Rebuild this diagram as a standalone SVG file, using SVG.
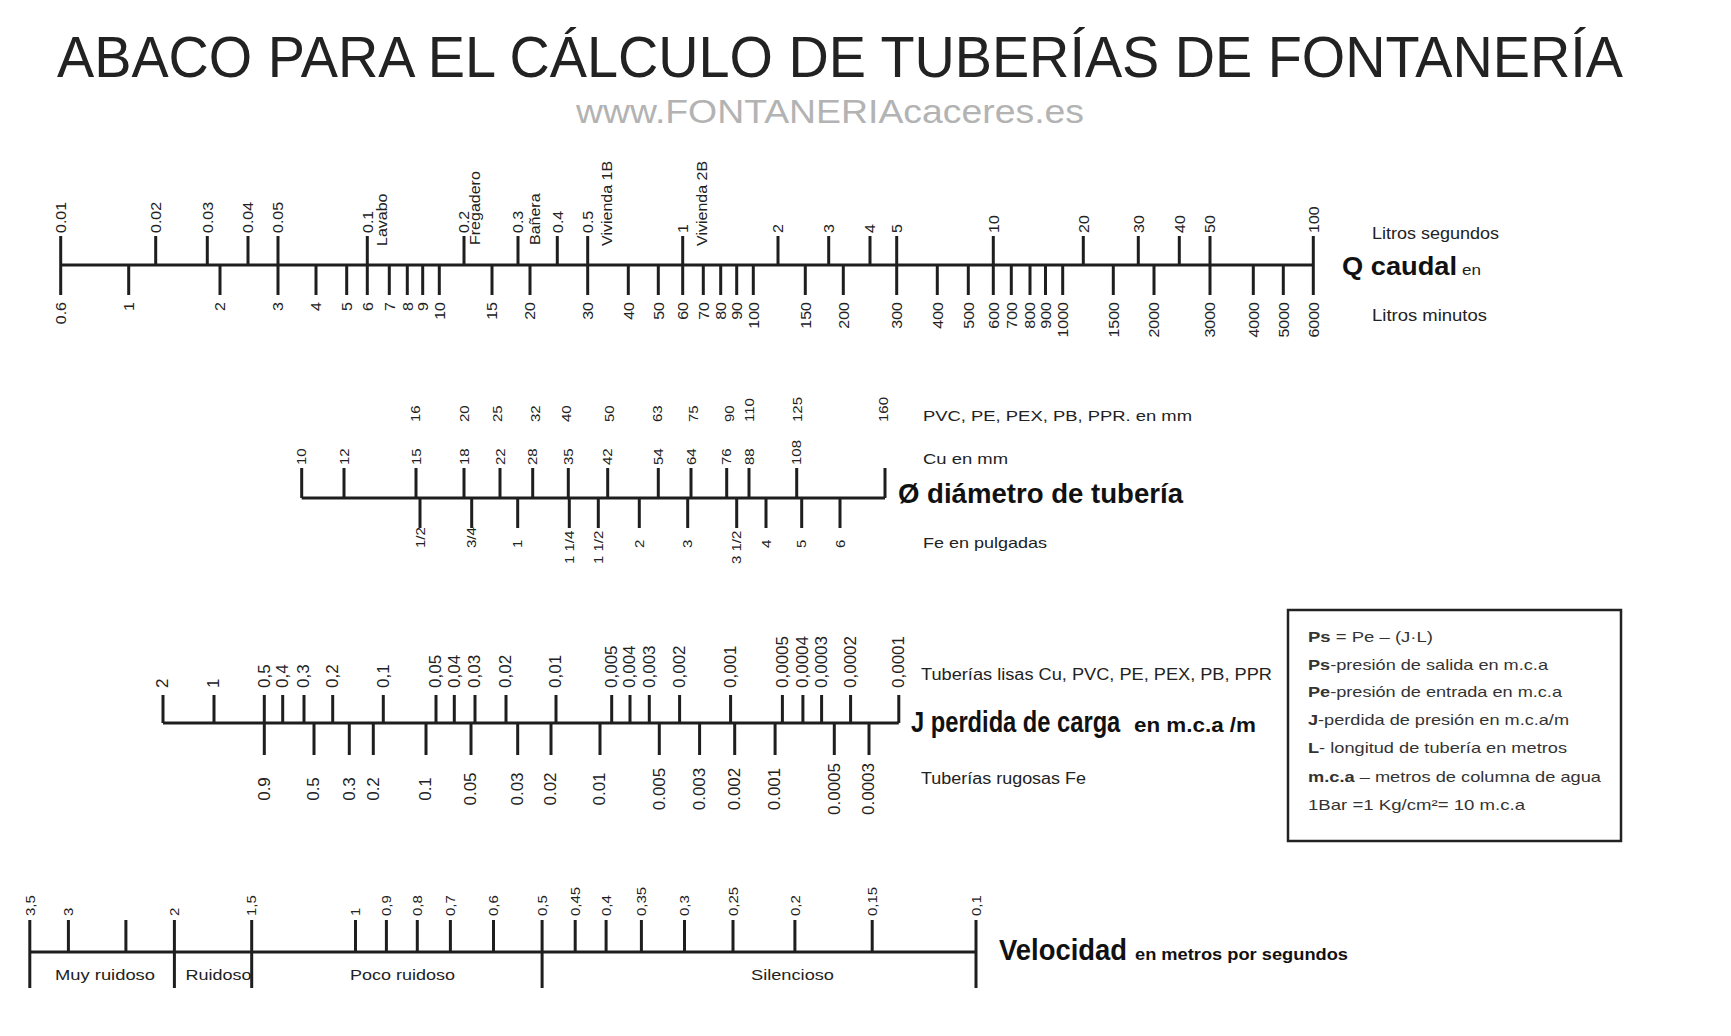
<svg xmlns="http://www.w3.org/2000/svg" width="1731" height="1036" viewBox="0 0 1731 1036">
<style>
.t{font-family:"Liberation Sans",Arial,sans-serif;fill:#222}
.b{font-weight:bold;fill:#111}
.v{font-family:"Liberation Sans",Arial,sans-serif;fill:#222;dominant-baseline:central;font-size:16px}
.d{font-size:15px}
.j{font-size:17px}
.s{text-anchor:start}
.e{text-anchor:end}
.m{text-anchor:middle}
.k{stroke:#1e1e1e;stroke-width:3;fill:none}
.lg{font-family:"Liberation Sans",Arial,sans-serif;fill:#333;font-size:15px}
</style>
<rect width="1731" height="1036" fill="#fff"/>

<g id="title">
<text class="t" x="57" y="77" font-size="58" fill="#111" textLength="1566" lengthAdjust="spacingAndGlyphs">ABACO PARA EL CÁLCULO DE TUBERÍAS DE FONTANERÍA</text>
<text class="t" x="576" y="123" font-size="34" style="fill:#b3b3b3" textLength="508" lengthAdjust="spacingAndGlyphs">www.FONTANERIAcaceres.es</text>
</g>

<g id="scale-caudal">
<path class="k" d="M60.7 265H1313.3 M60.7 236V265 M155.7 236V265 M207.3 236V265 M248 236V265 M278 236V265 M367.3 236V265 M464 236V265 M518 236V265 M557.3 236V265 M587.7 236V265 M682.7 236V265 M778 236V265 M828.7 236V265 M870 236V265 M896.7 236V265 M993.3 236V265 M1083.3 236V265 M1138.3 236V265 M1179.3 236V265 M1210 236V265 M1313.3 236V265 M60.7 265V295 M128.7 265V295 M220 265V295 M278 265V295 M316 265V295 M346.7 265V295 M367.3 265V295 M389.3 265V295 M407.3 265V295 M422.7 265V295 M439.3 265V295 M492 265V295 M530 265V295 M587.7 265V295 M628.3 265V295 M658.3 265V295 M682.7 265V295 M703.3 265V295 M720.7 265V295 M736.7 265V295 M753.3 265V295 M805.3 265V295 M843.3 265V295 M896.7 265V295 M937.3 265V295 M968.3 265V295 M993.3 265V295 M1011.3 265V295 M1030 265V295 M1045.5 265V295 M1062.7 265V295 M1113.3 265V295 M1154 265V295 M1210 265V295 M1253.3 265V295 M1283.3 265V295 M1313.3 265V295"/>
<g class="v s">
<text transform="translate(60.7,233) rotate(-90) scale(1,.9)">0.01</text>
<text transform="translate(155.7,233) rotate(-90) scale(1,.9)">0.02</text>
<text transform="translate(207.3,233) rotate(-90) scale(1,.9)">0.03</text>
<text transform="translate(248,233) rotate(-90) scale(1,.9)">0.04</text>
<text transform="translate(278,233) rotate(-90) scale(1,.9)">0.05</text>
<text transform="translate(367.3,233) rotate(-90) scale(1,.9)">0.1</text>
<text transform="translate(464,233) rotate(-90) scale(1,.9)">0.2</text>
<text transform="translate(518,233) rotate(-90) scale(1,.9)">0.3</text>
<text transform="translate(557.3,233) rotate(-90) scale(1,.9)">0.4</text>
<text transform="translate(587.7,233) rotate(-90) scale(1,.9)">0.5</text>
<text transform="translate(682.7,233) rotate(-90) scale(1,.9)">1</text>
<text transform="translate(778,233) rotate(-90) scale(1,.9)">2</text>
<text transform="translate(828.7,233) rotate(-90) scale(1,.9)">3</text>
<text transform="translate(870,233) rotate(-90) scale(1,.9)">4</text>
<text transform="translate(896.7,233) rotate(-90) scale(1,.9)">5</text>
<text transform="translate(993.3,233) rotate(-90) scale(1,.9)">10</text>
<text transform="translate(1083.3,233) rotate(-90) scale(1,.9)">20</text>
<text transform="translate(1138.3,233) rotate(-90) scale(1,.9)">30</text>
<text transform="translate(1179.3,233) rotate(-90) scale(1,.9)">40</text>
<text transform="translate(1210,233) rotate(-90) scale(1,.9)">50</text>
<text transform="translate(1313.3,233) rotate(-90) scale(1,.9)">100</text>
<text transform="translate(382,246) rotate(-90) scale(1,.9)">Lavabo</text>
<text transform="translate(475,245) rotate(-90) scale(1,.9)">Fregadero</text>
<text transform="translate(535,245) rotate(-90) scale(1,.9)">Bañera</text>
<text transform="translate(607,246) rotate(-90) scale(1,.9)">Vivienda 1B</text>
<text transform="translate(702,246) rotate(-90) scale(1,.9)">Vivienda 2B</text>
</g>
<g class="v e">
<text transform="translate(60.7,302) rotate(-90) scale(1,.9)">0.6</text>
<text transform="translate(128.7,302) rotate(-90) scale(1,.9)">1</text>
<text transform="translate(220,302) rotate(-90) scale(1,.9)">2</text>
<text transform="translate(278,302) rotate(-90) scale(1,.9)">3</text>
<text transform="translate(316,302) rotate(-90) scale(1,.9)">4</text>
<text transform="translate(346.7,302) rotate(-90) scale(1,.9)">5</text>
<text transform="translate(367.3,302) rotate(-90) scale(1,.9)">6</text>
<text transform="translate(389.3,302) rotate(-90) scale(1,.9)">7</text>
<text transform="translate(407.3,302) rotate(-90) scale(1,.9)">8</text>
<text transform="translate(422.7,302) rotate(-90) scale(1,.9)">9</text>
<text transform="translate(439.3,302) rotate(-90) scale(1,.9)">10</text>
<text transform="translate(492,302) rotate(-90) scale(1,.9)">15</text>
<text transform="translate(530,302) rotate(-90) scale(1,.9)">20</text>
<text transform="translate(587.7,302) rotate(-90) scale(1,.9)">30</text>
<text transform="translate(628.3,302) rotate(-90) scale(1,.9)">40</text>
<text transform="translate(658.3,302) rotate(-90) scale(1,.9)">50</text>
<text transform="translate(682.7,302) rotate(-90) scale(1,.9)">60</text>
<text transform="translate(703.3,302) rotate(-90) scale(1,.9)">70</text>
<text transform="translate(720.7,302) rotate(-90) scale(1,.9)">80</text>
<text transform="translate(736.7,302) rotate(-90) scale(1,.9)">90</text>
<text transform="translate(753.3,302) rotate(-90) scale(1,.9)">100</text>
<text transform="translate(805.3,302) rotate(-90) scale(1,.9)">150</text>
<text transform="translate(843.3,302) rotate(-90) scale(1,.9)">200</text>
<text transform="translate(896.7,302) rotate(-90) scale(1,.9)">300</text>
<text transform="translate(937.3,302) rotate(-90) scale(1,.9)">400</text>
<text transform="translate(968.3,302) rotate(-90) scale(1,.9)">500</text>
<text transform="translate(993.3,302) rotate(-90) scale(1,.9)">600</text>
<text transform="translate(1011.3,302) rotate(-90) scale(1,.9)">700</text>
<text transform="translate(1030,302) rotate(-90) scale(1,.9)">800</text>
<text transform="translate(1045.5,302) rotate(-90) scale(1,.9)">900</text>
<text transform="translate(1062.7,302) rotate(-90) scale(1,.9)">1000</text>
<text transform="translate(1113.3,302) rotate(-90) scale(1,.9)">1500</text>
<text transform="translate(1154,302) rotate(-90) scale(1,.9)">2000</text>
<text transform="translate(1210,302) rotate(-90) scale(1,.9)">3000</text>
<text transform="translate(1253.3,302) rotate(-90) scale(1,.9)">4000</text>
<text transform="translate(1283.3,302) rotate(-90) scale(1,.9)">5000</text>
<text transform="translate(1313.3,302) rotate(-90) scale(1,.9)">6000</text>
</g>
<text class="t" x="1372" y="239" font-size="16" textLength="127" lengthAdjust="spacingAndGlyphs">Litros segundos</text>
<text class="t b" x="1342" y="275" font-size="26" textLength="115" lengthAdjust="spacingAndGlyphs">Q caudal</text>
<text class="t" x="1462" y="275" font-size="14" textLength="19" lengthAdjust="spacingAndGlyphs">en</text>
<text class="t" x="1372" y="321" font-size="16" textLength="115" lengthAdjust="spacingAndGlyphs">Litros minutos</text>
</g>

<g id="scale-diametro">
<path class="k" d="M301.7 498H885 M301.7 468V498 M344 468V498 M416 468V498 M464 468V498 M500 468V498 M532.7 468V498 M568.3 468V498 M607.7 468V498 M658.3 468V498 M691 468V498 M726.7 468V498 M749 468V498 M796.7 468V498 M885 468V498 M420 498V528 M471.7 498V528 M517.7 498V528 M569.3 498V528 M598.3 498V528 M639.3 498V528 M687.7 498V528 M736.7 498V528 M766 498V528 M801.7 498V528 M840 498V528"/>
<g class="v d s">
<text transform="translate(301.7,465) rotate(-90) scale(1,.9)">10</text>
<text transform="translate(344,465) rotate(-90) scale(1,.9)">12</text>
<text transform="translate(416,465) rotate(-90) scale(1,.9)">15</text>
<text transform="translate(464,465) rotate(-90) scale(1,.9)">18</text>
<text transform="translate(500,465) rotate(-90) scale(1,.9)">22</text>
<text transform="translate(532.7,465) rotate(-90) scale(1,.9)">28</text>
<text transform="translate(568.3,465) rotate(-90) scale(1,.9)">35</text>
<text transform="translate(607.7,465) rotate(-90) scale(1,.9)">42</text>
<text transform="translate(658.3,465) rotate(-90) scale(1,.9)">54</text>
<text transform="translate(691,465) rotate(-90) scale(1,.9)">64</text>
<text transform="translate(726.7,465) rotate(-90) scale(1,.9)">76</text>
<text transform="translate(749,465) rotate(-90) scale(1,.9)">88</text>
<text transform="translate(796.7,465) rotate(-90) scale(1,.9)">108</text>
<text transform="translate(415,422) rotate(-90) scale(1,.9)">16</text>
<text transform="translate(464,422) rotate(-90) scale(1,.9)">20</text>
<text transform="translate(497.3,422) rotate(-90) scale(1,.9)">25</text>
<text transform="translate(535,422) rotate(-90) scale(1,.9)">32</text>
<text transform="translate(566.7,422) rotate(-90) scale(1,.9)">40</text>
<text transform="translate(609.3,422) rotate(-90) scale(1,.9)">50</text>
<text transform="translate(657.7,422) rotate(-90) scale(1,.9)">63</text>
<text transform="translate(693.3,422) rotate(-90) scale(1,.9)">75</text>
<text transform="translate(729.3,422) rotate(-90) scale(1,.9)">90</text>
<text transform="translate(749.3,422) rotate(-90) scale(1,.9)">110</text>
<text transform="translate(797.3,422) rotate(-90) scale(1,.9)">125</text>
<text transform="translate(883.3,422) rotate(-90) scale(1,.9)">160</text>
<text transform="translate(420,548) rotate(-90) scale(1,.9)">1/2</text>
<text transform="translate(471.7,548) rotate(-90) scale(1,.9)">3/4</text>
<text transform="translate(517.7,548) rotate(-90) scale(1,.9)">1</text>
<text transform="translate(569.3,564) rotate(-90) scale(1,.9)">1 1/4</text>
<text transform="translate(598.3,564) rotate(-90) scale(1,.9)">1 1/2</text>
<text transform="translate(639.3,548) rotate(-90) scale(1,.9)">2</text>
<text transform="translate(687.7,548) rotate(-90) scale(1,.9)">3</text>
<text transform="translate(736.7,564) rotate(-90) scale(1,.9)">3 1/2</text>
<text transform="translate(766,548) rotate(-90) scale(1,.9)">4</text>
<text transform="translate(801.7,548) rotate(-90) scale(1,.9)">5</text>
<text transform="translate(840,548) rotate(-90) scale(1,.9)">6</text>
</g>
<text class="t" x="923" y="421" font-size="15" textLength="269" lengthAdjust="spacingAndGlyphs">PVC, PE, PEX, PB, PPR. en mm</text>
<text class="t" x="923" y="464" font-size="15" textLength="85" lengthAdjust="spacingAndGlyphs">Cu en mm</text>
<text class="t b" x="898" y="503" font-size="28" textLength="285" lengthAdjust="spacingAndGlyphs">Ø diámetro de tubería</text>
<text class="t" x="923" y="548" font-size="15" textLength="124" lengthAdjust="spacingAndGlyphs">Fe en pulgadas</text>
</g>

<g id="scale-perdida">
<path class="k" d="M163 723H898.8 M163 695V723 M214 695V723 M264.3 695V723 M282.7 695V723 M304 695V723 M332.7 695V723 M383.3 695V723 M436 695V723 M454.3 695V723 M475 695V723 M506 695V723 M556 695V723 M611.7 695V723 M630 695V723 M649.3 695V723 M679.6 695V723 M730.6 695V723 M782.4 695V723 M802.9 695V723 M821.6 695V723 M850.6 695V723 M898.8 695V723 M264.3 723V755 M314 723V755 M349.3 723V755 M373.3 723V755 M426 723V755 M471 723V755 M517.7 723V755 M551 723V755 M600 723V755 M659.3 723V755 M699.6 723V755 M734.7 723V755 M775.1 723V755 M834.3 723V755 M869 723V755"/>
<g class="v j s">
<text transform="translate(163,688) rotate(-90) scale(1,.95)">2</text>
<text transform="translate(214,688) rotate(-90) scale(1,.95)">1</text>
<text transform="translate(264.3,688) rotate(-90) scale(1,.95)">0,5</text>
<text transform="translate(282.7,688) rotate(-90) scale(1,.95)">0,4</text>
<text transform="translate(304,688) rotate(-90) scale(1,.95)">0,3</text>
<text transform="translate(332.7,688) rotate(-90) scale(1,.95)">0,2</text>
<text transform="translate(383.3,688) rotate(-90) scale(1,.95)">0,1</text>
<text transform="translate(436,688) rotate(-90) scale(1,.95)">0,05</text>
<text transform="translate(454.3,688) rotate(-90) scale(1,.95)">0,04</text>
<text transform="translate(475,688) rotate(-90) scale(1,.95)">0,03</text>
<text transform="translate(506,688) rotate(-90) scale(1,.95)">0,02</text>
<text transform="translate(556,688) rotate(-90) scale(1,.95)">0,01</text>
<text transform="translate(611.7,688) rotate(-90) scale(1,.95)">0,005</text>
<text transform="translate(630,688) rotate(-90) scale(1,.95)">0,004</text>
<text transform="translate(649.3,688) rotate(-90) scale(1,.95)">0,003</text>
<text transform="translate(679.6,688) rotate(-90) scale(1,.95)">0,002</text>
<text transform="translate(730.6,688) rotate(-90) scale(1,.95)">0,001</text>
<text transform="translate(782.4,688) rotate(-90) scale(1,.95)">0,0005</text>
<text transform="translate(802.9,688) rotate(-90) scale(1,.95)">0,0004</text>
<text transform="translate(821.6,688) rotate(-90) scale(1,.95)">0,0003</text>
<text transform="translate(850.6,688) rotate(-90) scale(1,.95)">0,0002</text>
<text transform="translate(898.8,688) rotate(-90) scale(1,.95)">0,0001</text>
</g>
<g class="v j m">
<text transform="translate(264.3,789) rotate(-90) scale(1,.95)">0.9</text>
<text transform="translate(314,789) rotate(-90) scale(1,.95)">0.5</text>
<text transform="translate(349.3,789) rotate(-90) scale(1,.95)">0.3</text>
<text transform="translate(373.3,789) rotate(-90) scale(1,.95)">0.2</text>
<text transform="translate(426,789) rotate(-90) scale(1,.95)">0.1</text>
<text transform="translate(471,789) rotate(-90) scale(1,.95)">0.05</text>
<text transform="translate(517.7,789) rotate(-90) scale(1,.95)">0.03</text>
<text transform="translate(551,789) rotate(-90) scale(1,.95)">0.02</text>
<text transform="translate(600,789) rotate(-90) scale(1,.95)">0.01</text>
<text transform="translate(659.3,789) rotate(-90) scale(1,.95)">0.005</text>
<text transform="translate(699.6,789) rotate(-90) scale(1,.95)">0.003</text>
<text transform="translate(734.7,789) rotate(-90) scale(1,.95)">0.002</text>
<text transform="translate(775.1,789) rotate(-90) scale(1,.95)">0.001</text>
<text transform="translate(834.3,789) rotate(-90) scale(1,.95)">0.0005</text>
<text transform="translate(869,789) rotate(-90) scale(1,.95)">0.0003</text>
</g>
<text class="t" x="921" y="680" font-size="16" textLength="351" lengthAdjust="spacingAndGlyphs">Tuberías lisas Cu, PVC, PE, PEX, PB, PPR</text>
<text class="t b" transform="translate(911,732) scale(.79,1)" font-size="30">J perdida de carga</text>
<text class="t b" transform="translate(1134,732) scale(1.12,1)" font-size="20">en m.c.a /m</text>
<text class="t" x="921" y="784" font-size="16" textLength="165" lengthAdjust="spacingAndGlyphs">Tuberías rugosas Fe</text>
</g>

<g id="legend">
<rect x="1288" y="610" width="333" height="231" fill="#fff" stroke="#222" stroke-width="2.5"/>
<text class="lg" x="1308" y="641.7" textLength="125" lengthAdjust="spacingAndGlyphs"><tspan font-weight="bold">Ps</tspan> = Pe – (J·L)</text>
<text class="lg" x="1308" y="670" textLength="240" lengthAdjust="spacingAndGlyphs"><tspan font-weight="bold">Ps</tspan>-presión de salida en m.c.a</text>
<text class="lg" x="1308" y="696.7" textLength="254" lengthAdjust="spacingAndGlyphs"><tspan font-weight="bold">Pe</tspan>-presión de entrada en m.c.a</text>
<text class="lg" x="1308" y="725" textLength="261" lengthAdjust="spacingAndGlyphs"><tspan font-weight="bold">J</tspan>-perdida de presión en m.c.a/m</text>
<text class="lg" x="1308" y="753.3" textLength="259" lengthAdjust="spacingAndGlyphs"><tspan font-weight="bold">L</tspan>- longitud de tubería en metros</text>
<text class="lg" x="1308" y="781.7" textLength="293" lengthAdjust="spacingAndGlyphs"><tspan font-weight="bold">m.c.a</tspan> – metros de columna de agua</text>
<text class="lg" x="1308" y="810" textLength="217" lengthAdjust="spacingAndGlyphs">1Bar =1 Kg/cm²= 10 m.c.a</text>
</g>

<g id="scale-velocidad">
<path class="k" d="M29.8 952H976 M29.8 920V988 M68.4 920V952 M125.9 920V952 M174.4 920V988 M251.7 920V988 M355.5 920V952 M386.4 920V952 M417.3 920V952 M450.4 920V952 M493.5 920V952 M542.1 920V988 M575.2 920V952 M606.1 920V952 M641.4 920V952 M684.5 920V952 M733 920V952 M794.9 920V952 M872.2 920V952 M976 920V988"/>
<g class="v d s">
<text transform="translate(29.8,916) rotate(-90) scale(1,.9)">3,5</text>
<text transform="translate(68.4,916) rotate(-90) scale(1,.9)">3</text>
<text transform="translate(174.4,916) rotate(-90) scale(1,.9)">2</text>
<text transform="translate(251.7,916) rotate(-90) scale(1,.9)">1,5</text>
<text transform="translate(355.5,916) rotate(-90) scale(1,.9)">1</text>
<text transform="translate(386.4,916) rotate(-90) scale(1,.9)">0,9</text>
<text transform="translate(417.3,916) rotate(-90) scale(1,.9)">0,8</text>
<text transform="translate(450.4,916) rotate(-90) scale(1,.9)">0,7</text>
<text transform="translate(493.5,916) rotate(-90) scale(1,.9)">0,6</text>
<text transform="translate(542.1,916) rotate(-90) scale(1,.9)">0,5</text>
<text transform="translate(575.2,916) rotate(-90) scale(1,.9)">0,45</text>
<text transform="translate(606.1,916) rotate(-90) scale(1,.9)">0,4</text>
<text transform="translate(641.4,916) rotate(-90) scale(1,.9)">0,35</text>
<text transform="translate(684.5,916) rotate(-90) scale(1,.9)">0,3</text>
<text transform="translate(733,916) rotate(-90) scale(1,.9)">0,25</text>
<text transform="translate(794.9,916) rotate(-90) scale(1,.9)">0,2</text>
<text transform="translate(872.2,916) rotate(-90) scale(1,.9)">0,15</text>
<text transform="translate(976,916) rotate(-90) scale(1,.9)">0,1</text>
</g>
<text class="t" x="55" y="980" font-size="15" textLength="100" lengthAdjust="spacingAndGlyphs">Muy ruidoso</text>
<text class="t" x="185.5" y="980" font-size="15" textLength="66" lengthAdjust="spacingAndGlyphs">Ruidoso</text>
<text class="t" x="350" y="980" font-size="15" textLength="105" lengthAdjust="spacingAndGlyphs">Poco ruidoso</text>
<text class="t" x="751" y="980" font-size="15" textLength="83" lengthAdjust="spacingAndGlyphs">Silencioso</text>
<text class="t b" x="999" y="960" font-size="29" textLength="128" lengthAdjust="spacingAndGlyphs">Velocidad</text>
<text class="t b" x="1135" y="960" font-size="16" textLength="213" lengthAdjust="spacingAndGlyphs">en metros por segundos</text>
</g>
</svg>
